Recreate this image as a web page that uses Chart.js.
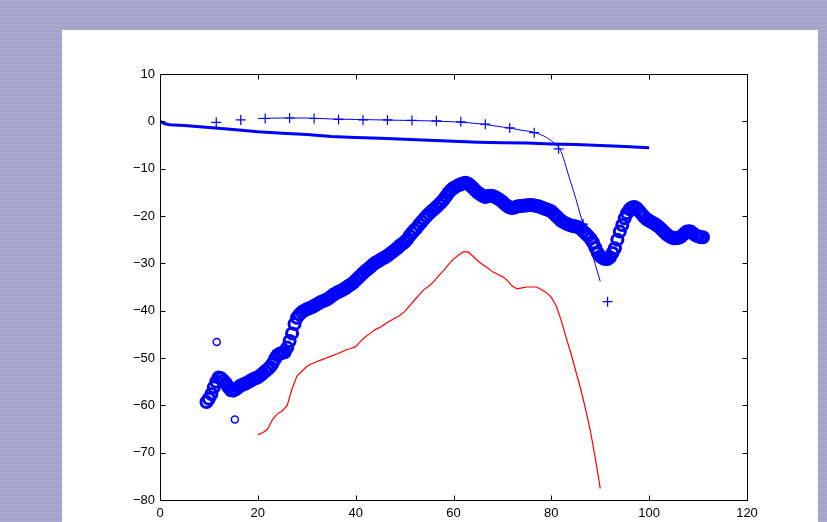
<!DOCTYPE html>
<html>
<head>
<meta charset="utf-8">
<script src="https://cdn.jsdelivr.net/npm/chart.js@4.4.1/dist/chart.umd.min.js"></script>
<style>
    html, body {
        margin: 0;
        padding: 0;
        width: 827px;
        height: 522px;
        overflow: hidden;
        background: repeating-linear-gradient(180deg, #a6a9cd 0px, #a6a9cd 3px, #9ea1c5 3px, #9ea1c5 4px);
    }
    #panel {
        position: absolute;
        left: 62px;
        top: 30px;
        width: 756px;
        height: 492px;
        background: #ffffff;
    }
</style>
</head>
<body>
<div id="panel"><canvas id="plot"></canvas></div>
<script>
/* ========================================
   Line / marker plot - MATLAB style figure
   ======================================== */

// Axis ticks
const xTicks = [0, 20, 40, 60, 80, 100, 120];
const yTicks = [-80, -70, -60, -50, -40, -30, -20, -10, 0, 10];

// Thick blue line
const thickX = [0, 1, 2, 5, 10, 15, 20, 25, 30, 35, 40, 45, 50, 55, 60, 65, 70, 75, 80, 85, 90, 95, 100];
const thickY = [0, -0.5, -0.7, -0.9, -1.3, -1.7, -2.2, -2.5, -2.8, -3.2, -3.4, -3.6, -3.8, -4.0, -4.2, -4.4, -4.5, -4.6, -4.8, -4.9, -5.1, -5.3, -5.6];

// Thin blue line
const thinX = [20, 25, 30, 35, 40, 45, 50, 55, 60, 63, 66, 68, 70, 72, 74, 76, 77, 78, 79, 80, 81, 82, 83, 84, 85, 86, 87, 88, 89, 90];
const thinY = [0.6, 0.7, 0.7, 0.5, 0.4, 0.3, 0.2, 0.1, -0.1, -0.3, -0.6, -0.9, -1.2, -1.5, -1.9, -2.2, -2.5, -2.9, -3.4, -4.1, -5.0, -6.4, -9.6, -13.0, -16.3, -20.0, -23.3, -26.8, -30.3, -33.8];

// "+" markers
const plusX = [11.5, 16.5, 21.5, 26.5, 31.5, 36.5, 41.5, 46.5, 51.5, 56.5, 61.5, 66.5, 71.5, 76.5, 81.5, 86.5, 91.5];
const plusY = [-0.2, 0.3, 0.6, 0.7, 0.6, 0.4, 0.3, 0.3, 0.2, 0.1, -0.1, -0.6, -1.4, -2.4, -5.8, -21.7, -38.1];

// "o" markers, sampled every 0.5 from x = 9.5
const circleStart = 9.5;
const circleStep = 0.5;
const circleY = [
    -59.3, -58.6, -57.6, -56.2, -55.0, -54.1, -54.3, -54.8, -55.4, -56.2,
    -56.8, -56.9, -56.6, -56.2, -55.8, -55.6, -55.4, -55.1, -54.8, -54.5,
    -54.3, -54.1, -53.7, -53.3, -52.8, -52.4, -51.9, -51.2, -50.2, -49.4,
    -49.1, -48.9, -48.8, -47.8, -46.4, -44.8, -42.8, -41.5, -40.8, -40.3,
    -40.0, -39.7, -39.5, -39.3, -39.0, -38.7, -38.4, -38.1, -37.9, -37.7,
    -37.4, -37.0, -36.6, -36.3, -36.0, -35.8, -35.5, -35.2, -34.8, -34.5,
    -34.1, -33.6, -33.1, -32.6, -32.1, -31.6, -31.2, -30.8, -30.3, -29.9,
    -29.6, -29.3, -29.0, -28.7, -28.4, -28.0, -27.6, -27.2, -26.8, -26.3,
    -25.9, -25.5, -25.0, -24.2, -23.6, -23.0, -22.5, -21.8, -21.2, -20.6,
    -20.0, -19.5, -19.0, -18.6, -18.1, -17.6, -17.1, -16.5, -15.8, -15.1,
    -14.5, -14.1, -13.8, -13.5, -13.3, -13.1, -13.0, -13.2, -13.6, -14.1,
    -14.6, -15.1, -15.4, -15.8, -16.0, -15.8, -15.7, -15.8, -16.0, -16.3,
    -16.6, -17.0, -17.5, -17.9, -18.2, -18.3, -18.2, -18.0, -17.9, -17.9,
    -17.8, -17.8, -17.7, -17.7, -17.8, -17.9, -18.0, -18.2, -18.4, -18.6,
    -18.8, -19.0, -19.5, -20.0, -20.5, -21.0, -21.3, -21.6, -21.8, -22.0,
    -22.1, -22.2, -22.4, -22.7, -23.2, -23.7, -24.2, -24.8, -25.6, -26.7,
    -27.8, -28.5, -28.9, -29.1, -29.1, -28.7, -27.8, -26.8, -25.0, -23.3,
    -21.9, -20.5, -19.4, -18.6, -18.2, -18.1, -18.4, -19.0, -19.6, -20.2,
    -20.7, -21.0, -21.3, -21.6, -21.9, -22.3, -22.8, -23.3, -23.8, -24.2,
    -24.5, -24.7, -24.7, -24.6, -24.4, -23.9, -23.4, -23.2, -23.3, -23.7,
    -24.1, -24.3, -24.5, -24.5
];
const strayCircleX = [11.6, 15.3];
const strayCircleY = [-46.6, -63.0];

// Red line, sampled every 1 from x = 20
const redStart = 20;
const redStep = 1;
const redY = [
    -66.2, -65.8, -65.0, -63.0, -61.8, -61.2, -60.0, -56.5, -53.8, -52.8,
    -51.8, -51.2, -50.8, -50.4, -50.0, -49.6, -49.2, -48.8, -48.3, -48.0,
    -47.6, -46.5, -45.5, -44.8, -44.0, -43.5, -42.8, -42.2, -41.6, -41.0,
    -40.2, -39.0, -37.8, -36.6, -35.5, -34.8, -33.8, -32.6, -31.5, -30.2,
    -29.1, -28.3, -27.6, -27.6, -28.5, -29.5, -30.3, -31.0, -31.8, -32.3,
    -32.8, -33.6, -34.8, -35.4, -35.2, -35.0, -35.0, -35.0, -35.6, -36.2,
    -37.2, -39.0, -42.0, -45.6, -49.0, -52.8, -56.5, -60.8, -65.5, -71.2,
    -77.6
];

const toPoints = (xs, ys) => ys.map((y, i) => ({ x: xs[i], y: y }));
const toSampled = (start, step, ys) => ys.map((y, i) => ({ x: start + i * step, y: y }));

const BLUE = '#0000ff';
const RED = '#ff0000';

// Box around the axes with inward tick marks on all four sides
const boxTicks = {
    id: 'boxTicks',
    afterDatasetsDraw(chart) {
        const { ctx, chartArea, scales } = chart;
        const l = Math.round(chartArea.left) + 0.5;
        const r = Math.round(chartArea.right) + 0.5;
        const t = Math.round(chartArea.top) + 0.5;
        const b = Math.round(chartArea.bottom) + 0.5;
        const len = 5;
        ctx.save();
        ctx.strokeStyle = '#000000';
        ctx.lineWidth = 1;
        ctx.beginPath();
        ctx.rect(l, t, r - l, b - t);
        xTicks.forEach(v => {
            const px = Math.round(scales.x.getPixelForValue(v)) + 0.5;
            ctx.moveTo(px, b); ctx.lineTo(px, b - len);
            ctx.moveTo(px, t); ctx.lineTo(px, t + len);
        });
        yTicks.forEach(v => {
            const py = Math.round(scales.y.getPixelForValue(v)) + 0.5;
            ctx.moveTo(l, py); ctx.lineTo(l + len, py);
            ctx.moveTo(r, py); ctx.lineTo(r - len, py);
        });
        ctx.stroke();
        ctx.restore();
    }
};

const tickFont = { family: 'Helvetica, "Liberation Sans", Arial, sans-serif', size: 13 };

new Chart(document.getElementById('plot'), {
    type: 'scatter',
    data: {
        datasets: [
            {
                label: 'red',
                data: toSampled(redStart, redStep, redY),
                showLine: true,
                borderColor: RED,
                borderWidth: 1.2,
                pointRadius: 0,
                tension: 0
            },
            {
                label: 'circles',
                data: toSampled(circleStart, circleStep, circleY),
                showLine: false,
                pointStyle: 'circle',
                pointRadius: 5.5,
                borderColor: BLUE,
                borderWidth: 3,
                backgroundColor: 'rgba(0,0,0,0)'
            },
            {
                label: 'stray circles',
                data: toPoints(strayCircleX, strayCircleY),
                showLine: false,
                pointStyle: 'circle',
                pointRadius: 3.5,
                borderColor: BLUE,
                borderWidth: 1.5,
                backgroundColor: 'rgba(0,0,0,0)'
            },
            {
                label: 'thin',
                data: toPoints(thinX, thinY),
                showLine: true,
                borderColor: BLUE,
                borderWidth: 1,
                pointRadius: 0,
                cubicInterpolationMode: 'monotone'
            },
            {
                label: 'plus',
                data: toPoints(plusX, plusY),
                showLine: false,
                pointStyle: 'cross',
                pointRadius: 5,
                borderColor: BLUE,
                borderWidth: 1.2
            },
            {
                label: 'thick',
                data: toPoints(thickX, thickY),
                showLine: true,
                borderColor: BLUE,
                borderWidth: 3,
                pointRadius: 0,
                tension: 0
            }
        ]
    },
    options: {
        responsive: true,
        maintainAspectRatio: false,
        animation: false,
        layout: {
            padding: { left: 0, top: 44, right: 71, bottom: 0 }
        },
        plugins: {
            legend: { display: false },
            tooltip: { enabled: false }
        },
        scales: {
            x: {
                type: 'linear',
                min: 0,
                max: 120,
                afterFit: (scale) => { scale.height = 22; },
                afterBuildTicks: (scale) => { scale.ticks = xTicks.map(v => ({ value: v })); },
                grid: { display: false, drawTicks: false },
                border: { display: false },
                ticks: {
                    color: '#000000',
                    font: tickFont,
                    padding: 6,
                    maxRotation: 0,
                    autoSkip: false
                }
            },
            y: {
                type: 'linear',
                min: -80,
                max: 10,
                afterFit: (scale) => { scale.width = 98; },
                afterBuildTicks: (scale) => { scale.ticks = yTicks.map(v => ({ value: v })); },
                grid: { display: false, drawTicks: false },
                border: { display: false },
                ticks: {
                    color: '#000000',
                    font: tickFont,
                    padding: 5,
                    autoSkip: false,
                    callback: (value) => String(value).replace('-', '\u2212')
                }
            }
        }
    },
    plugins: [boxTicks]
});
</script>
</body>
</html>
